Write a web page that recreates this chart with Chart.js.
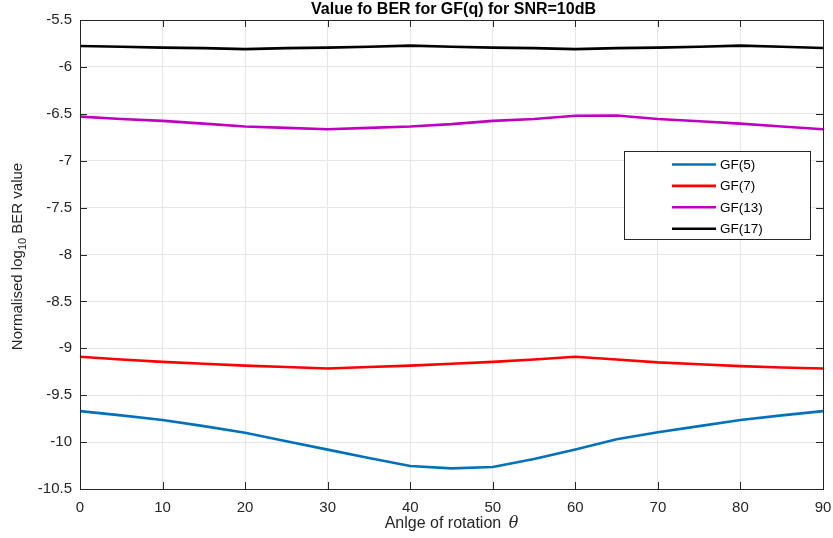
<!DOCTYPE html>
<html><head><meta charset="utf-8">
<script src="https://cdn.jsdelivr.net/npm/chart.js@4.4.0/dist/chart.umd.min.js"></script>
<style>html,body{margin:0;padding:0;background:#fff;overflow:hidden}</style>
</head><body>
<canvas id="c" width="833" height="538"></canvas>
<script>
const angles = [0,5,10,15,20,25,30,35,40,45,50,55,60,65,70,75,80,85,90];
const gf5  = [-9.67,-9.715,-9.765,-9.83,-9.90,-9.99,-10.08,-10.17,-10.255,-10.28,-10.265,-10.18,-10.08,-9.97,-9.895,-9.83,-9.765,-9.715,-9.67];
const gf7  = [-9.09,-9.12,-9.145,-9.165,-9.185,-9.20,-9.215,-9.20,-9.185,-9.165,-9.145,-9.12,-9.09,-9.12,-9.15,-9.17,-9.19,-9.205,-9.215];
const gf13 = [-6.53,-6.555,-6.575,-6.605,-6.635,-6.65,-6.665,-6.65,-6.635,-6.61,-6.575,-6.555,-6.52,-6.518,-6.555,-6.58,-6.605,-6.635,-6.665];
const gf17 = [-5.777,-5.785,-5.795,-5.80,-5.81,-5.80,-5.795,-5.785,-5.773,-5.785,-5.795,-5.80,-5.81,-5.80,-5.795,-5.785,-5.773,-5.785,-5.798];
const seriesLabels = ['GF(5)','GF(7)','GF(13)','GF(17)'];
const seriesColors = ['#0072BD','#FF0000','#BF00BF','#000000'];
const xTicks = [0,10,20,30,40,50,60,70,80,90];
const yTicks = [-10.5,-10,-9.5,-9,-8.5,-8,-7.5,-7,-6.5,-6,-5.5];
const chartTitle = 'Value fo BER for GF(q) for SNR=10dB';
const xTitleParts = ['Anlge of rotation ', '\u03B8'];
const yTitleParts = ['Normalised log', '10', ' BER value'];

const FONT = "'Liberation Sans', Arial, Helvetica, sans-serif";
const INK = '#262626';

const seriesValues = [gf5, gf7, gf13, gf17];
const datasets = seriesValues.map((vals, k) => ({
  label: seriesLabels[k],
  data: angles.map((a, i) => ({x: a, y: vals[i]})),
  borderColor: seriesColors[k],
  backgroundColor: seriesColors[k],
  borderWidth: 2.6,
  pointRadius: 0,
  tension: 0,
  fill: false,
  borderJoinStyle: 'round'
}));

const decor = {
  id: 'decor',
  afterDraw(chart) {
    const ctx = chart.ctx, ca = chart.chartArea;
    const xs = chart.scales.x, ys = chart.scales.y;
    ctx.save();
    // box
    ctx.strokeStyle = INK; ctx.lineWidth = 1;
    ctx.strokeRect(Math.round(ca.left) + 0.5, Math.round(ca.top) + 0.5,
                   Math.round(ca.right - ca.left), Math.round(ca.bottom - ca.top));
    // inner ticks
    const TL = 7;
    ctx.beginPath();
    xTicks.forEach(v => {
      const px = Math.round(xs.getPixelForValue(v)) + 0.5;
      ctx.moveTo(px, ca.bottom); ctx.lineTo(px, ca.bottom - TL);
      ctx.moveTo(px, ca.top); ctx.lineTo(px, ca.top + TL);
    });
    yTicks.forEach(v => {
      const py = Math.round(ys.getPixelForValue(v)) + 0.5;
      ctx.moveTo(ca.left, py); ctx.lineTo(ca.left + TL, py);
      ctx.moveTo(ca.right, py); ctx.lineTo(ca.right - TL, py);
    });
    ctx.stroke();
    // title
    ctx.fillStyle = '#000';
    ctx.font = 'bold 16px ' + FONT;
    ctx.textAlign = 'center'; ctx.textBaseline = 'middle';
    ctx.fillText(chartTitle, (ca.left + ca.right) / 2 + 2, 10);
    // x title with italic theta
    ctx.fillStyle = INK;
    ctx.textAlign = 'left';
    const fX = '16px ' + FONT, fTh = 'italic 16px "DejaVu Serif", serif';
    ctx.font = fX; const a0 = ctx.measureText(xTitleParts[0]).width;
    ctx.font = fTh; const a1 = ctx.measureText(xTitleParts[1]).width;
    let sx = (ca.left + ca.right) / 2 - (a0 + a1 + 3) / 2;
    ctx.font = fX; ctx.fillText(xTitleParts[0], sx, 524);
    ctx.font = fTh; ctx.fillText(xTitleParts[1], sx + a0 + 3, 524);
    // y title with subscript
    ctx.save();
    const cy = (ca.top + ca.bottom) / 2;
    ctx.translate(18, cy + 2);
    ctx.rotate(-Math.PI / 2);
    ctx.fillStyle = INK;
    const fMain = '15px ' + FONT, fSub = '11px ' + FONT;
    ctx.font = fMain; const w0 = ctx.measureText(yTitleParts[0]).width;
    const w2 = ctx.measureText(yTitleParts[2]).width;
    ctx.font = fSub; const w1 = ctx.measureText(yTitleParts[1]).width;
    let x0 = -(w0 + w1 + w2) / 2;
    ctx.textAlign = 'left'; ctx.textBaseline = 'middle';
    ctx.font = fMain; ctx.fillText(yTitleParts[0], x0, 0);
    ctx.font = fSub; ctx.fillText(yTitleParts[1], x0 + w0, 5);
    ctx.font = fMain; ctx.fillText(yTitleParts[2], x0 + w0 + w1, 0);
    ctx.restore();
    // legend
    const bx = 624.5, by = 151.5, bw = 186, bh = 88;
    ctx.fillStyle = '#fff';
    ctx.fillRect(bx, by, bw, bh);
    ctx.strokeStyle = INK; ctx.lineWidth = 1;
    ctx.strokeRect(bx, by, bw, bh);
    ctx.font = '13.5px ' + FONT;
    ctx.textAlign = 'left'; ctx.textBaseline = 'middle';
    chart.data.datasets.forEach((ds, i) => {
      const ry = by + 13 + i * 21.4;
      ctx.strokeStyle = ds.borderColor; ctx.lineWidth = 2.6;
      ctx.beginPath(); ctx.moveTo(672, ry); ctx.lineTo(716, ry); ctx.stroke();
      ctx.fillStyle = '#000';
      ctx.fillText(ds.label, 720, ry + 0.5);
    });
    ctx.restore();
  }
};

new Chart(document.getElementById('c'), {
  type: 'line',
  data: { datasets },
  plugins: [decor],
  options: {
    responsive: false,
    animation: false,
    devicePixelRatio: 1,
    layout: { padding: { top: 20, right: 10, left: 0, bottom: 0 } },
    plugins: { legend: { display: false }, tooltip: { enabled: false }, title: { display: false } },
    scales: {
      x: {
        type: 'linear', min: 0, max: 90,
        afterBuildTicks: s => { s.ticks = xTicks.map(v => ({value: v})); },
        afterFit: s => { s.height = 49; s.paddingLeft = 0; s.paddingRight = 0; },
        grid: { color: '#e6e6e6', drawTicks: false },
        border: { display: false },
        ticks: { padding: 10, color: INK, font: { family: FONT, size: 15 }, callback: v => String(v), maxRotation: 0 }
      },
      y: {
        type: 'linear', min: -10.5, max: -5.5,
        afterBuildTicks: s => { s.ticks = yTicks.map(v => ({value: v})); },
        afterFit: s => { s.width = 80; s.paddingTop = 0; s.paddingBottom = 0; },
        grid: { color: '#e6e6e6', drawTicks: false },
        border: { display: false },
        ticks: { padding: 8, color: INK, font: { family: FONT, size: 15 }, callback: v => String(v) }
      }
    }
  }
});
</script>
</body></html>
